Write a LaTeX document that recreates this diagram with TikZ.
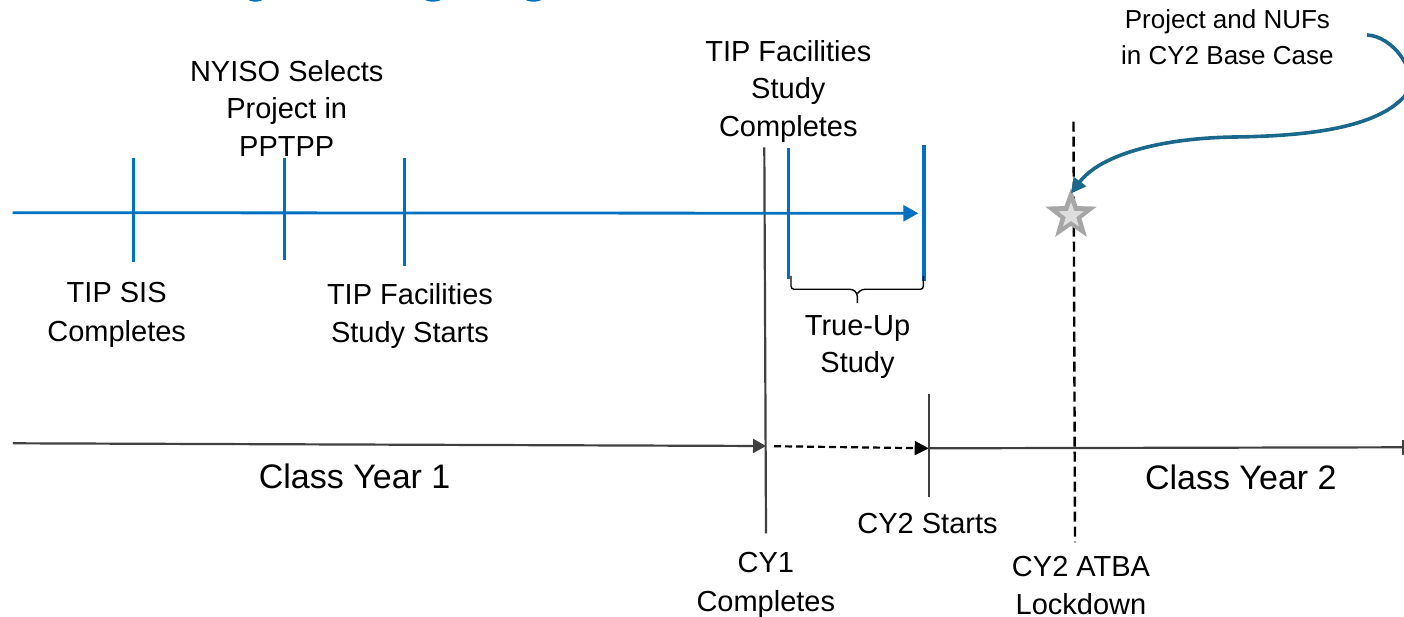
\documentclass[tikz,border=0pt]{standalone}
\usepackage{fontspec}
\setmainfont{Liberation Sans}
\usetikzlibrary{arrows.meta,shapes.geometric}
\definecolor{tlblue}{RGB}{0,112,192}
\definecolor{tlgrey}{RGB}{64,64,64}
\definecolor{curvecol}{RGB}{26,104,140}
\definecolor{starout}{RGB}{166,166,166}
\definecolor{starin}{RGB}{222,222,222}
\begin{document}
\begin{tikzpicture}[x=1pt,y=-1pt,
  lbl/.style={align=center, inner sep=0pt, anchor=north, font=\fontsize{29}{37.5}\selectfont},
  bigl/.style={inner sep=0pt, anchor=north, font=\fontsize{34}{40}\selectfont},
  bluetick/.style={draw=tlblue, line width=3.2pt},
  greyline/.style={draw=tlgrey, line width=2.2pt},
  dashline/.style={draw=black, line width=2.3pt},
  tipA/.style={-{Triangle[length=15pt,width=16pt]}},
  tipB/.style={-{Triangle[length=13pt,width=14pt]}}]
\useasboundingbox (0,0) rectangle (1404,617);
% fragments of the cut title
\fill[tlblue] (255.5,-1.8) ellipse [x radius=8, y radius=3.5];
\fill[tlblue] (433,-1.8) ellipse [x radius=9, y radius=3.5];
\fill[tlblue] (533.5,-1.8) ellipse [x radius=9, y radius=3.5];

% CY1 vertical and CY2 start tick
\coordinate (cy1t) at (764.3,147.3);
\coordinate (cy1b) at (766,533.3);
\draw[greyline] (cy1t) -- (cy1b);
\coordinate (cy2t) at (928.7,394);
\coordinate (cy2b) at (928.7,496.7);
\draw[greyline] (cy2t) -- (cy2b);

% blue timeline
\coordinate (bl0) at (12.7,212.7);
\coordinate (bl1) at (918.3,213.3);
\draw[tlblue, line width=2.8pt, tipA] (bl0) -- (bl1);
\draw[bluetick] (133.3,158.3) -- (133.3,261.7);
\draw[bluetick] (284.7,157.7) -- (284.7,260.3);
\draw[bluetick] (404.7,158.3) -- (404.7,265.7);
\draw[bluetick] (788.3,148.3) -- (788.3,279.3);
\draw[bluetick] (924,145) -- (924,280.7);

% brace
\draw[line width=1.4pt, rounded corners=3pt] (791,276) -- (791,289.3) -- (853,289.3) -- (857.3,293.5) -- (857.3,303);
\draw[line width=1.4pt, rounded corners=3pt] (923.3,276) -- (923.3,289.3) -- (861.6,289.3) -- (857.3,293.5);

% class year timeline
\coordinate (cl0) at (12.8,443.3);
\coordinate (cy1) at (766,446);
\coordinate (dsh0) at (774,446.2);
\coordinate (cy2) at (928.7,448.3);
\coordinate (cl1) at (1404,447.3);
\draw[greyline, tipB] (cl0) -- (cy1);
\draw[dashline, line width=2.2pt, dash pattern=on 7pt off 4pt, -{Triangle[length=14pt,width=14pt]}] (dsh0) -- (cy2);
\draw[greyline] (cy2) -- (cl1);
\draw[tlgrey, line width=2.5pt] (1403.3,440) -- (1403.3,455);

% lockdown dashed vertical
\coordinate (lkt) at (1073.5,121.7);
\coordinate (lkb) at (1075,542.3);
\draw[dashline, line width=2.4pt, dash pattern=on 10pt off 5pt] (lkt) -- (lkb);

% star (over the dashed line)
\node[star, star points=5, star point ratio=2.45, fill=starout, minimum size=54pt, inner sep=0pt] (star) at (1071,215) {};
\node[star, star points=5, star point ratio=2.45, fill=starin, minimum size=27pt, inner sep=0pt] (starc) at (1071,215.5) {};

% curved arrow
\coordinate (cs) at (1367,35);
\coordinate (ce) at (1071,193.5);
\draw[curvecol, line width=3.6pt, -{Triangle[length=15pt,width=15pt]}] (cs) .. controls (1392,36) and (1418,70) .. (1408,92) .. controls (1380,130) and (1300,136) .. (1235,137) .. controls (1160,138) and (1100,155) .. (ce);

% labels
\node[lbl, font=\fontsize{26}{36}\selectfont] (tproj) at (1227.4,9) {Project and NUFs\\in CY2 Base Case};
\node[lbl] (tnyiso) at (286.7,60) {NYISO Selects\\Project in\\PPTPP};
\node[lbl] (tfsc) at (788.3,40) {TIP Facilities\\Study\\Completes};
\node[lbl, font=\fontsize{29}{39}\selectfont] (tsis) at (116.7,282) {TIP SIS\\Completes};
\node[lbl, font=\fontsize{29}{38}\selectfont] (tfss) at (410,283) {TIP Facilities\\Study Starts};
\node[lbl, font=\fontsize{29}{37}\selectfont] (ttrue) at (857.5,315) {True-Up\\Study};
\node[bigl] (tcy1) at (354.6,463.3) {Class Year 1};
\node[bigl] (tcy2) at (1240.8,465) {Class Year 2};
\node[lbl] (tcy2s) at (927.5,513) {CY2 Starts};
\node[lbl, font=\fontsize{29}{39.5}\selectfont] (tcy1c) at (765.8,552) {CY1\\Completes};
\node[lbl, font=\fontsize{29}{38}\selectfont] (tlock) at (1081,556) {CY2 ATBA\\Lockdown};
\end{tikzpicture}
\end{document}
